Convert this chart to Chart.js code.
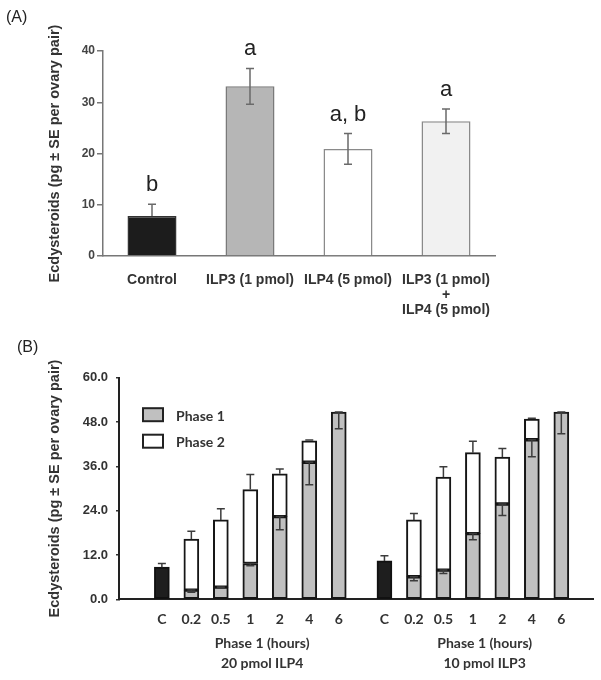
<!DOCTYPE html>
<html><head><meta charset="utf-8">
<script src="https://cdn.jsdelivr.net/npm/chart.js@4.4.0/dist/chart.umd.min.js"></script>
<style>
html,body{margin:0;padding:0;background:#fff;}
#wrap{position:relative;width:601px;height:680px;overflow:hidden;background:#fff;}
canvas{position:absolute;left:0;}
#ca{top:0;}
#cb{top:330px;}
.pl{position:absolute;font-family:'Liberation Sans',Arial,sans-serif;font-size:16px;color:#222;line-height:16px;}
</style></head>
<body><div id="wrap">
<canvas id="ca" width="601" height="325"></canvas>
<canvas id="cb" width="601" height="350"></canvas>
<div class="pl" style="left:6px;top:9px">(A)</div>
<div class="pl" style="left:17px;top:339px">(B)</div>
</div>
<script>
// ---------- Panel A data ----------
const catsA = ['Control', 'ILP3 (1 pmol)', 'ILP4 (5 pmol)', ['ILP3 (1 pmol)', '+', 'ILP4 (5 pmol)']];
const valuesA = [7.8, 33.1, 20.9, 26.3];
const errUpA = [2.3, 3.5, 3.0, 2.4];
const errDownA = [0, 3.5, 3.0, 2.4];
const lettersA = ['b', 'a', 'a, b', 'a'];
const yTitle = 'Ecdysteroids (pg \u00b1 SE per ovary pair)';

// ---------- Panel B data ----------
const timesB = ['C', '0.2', '0.5', '1', '2', '4', '6'];
const groupTitlesB = [['Phase 1 (hours)', '20 pmol ILP4'], ['Phase 1 (hours)', '10 pmol ILP3']];
const controlB = [8.7, 10.4];
const controlErrB = [1.0, 1.4];
const phase1ILP4 = [2.5, 3.3, 9.7, 22.4, 37.1, 50.7];
const phase1ErrILP4 = [0.6, 0.3, 0.6, 3.6, 6.1, 4.5];
const phase2ILP4 = [13.8, 18.2, 20.0, 11.6, 5.8, 0];
const totalErrILP4 = [2.1, 3.0, 4.1, 1.3, 0.2, 0];
const phase1ILP3 = [6.1, 7.9, 17.8, 25.8, 43.2, 50.7];
const phase1ErrILP3 = [1.1, 0.9, 1.7, 3.1, 4.6, 5.9];
const phase2ILP3 = [15.4, 25.2, 21.9, 12.7, 5.6, 0];
const totalErrILP3 = [1.7, 2.8, 3.1, 2.3, 0.2, 0];

const arial = '"Liberation Sans", Arial, sans-serif';

// ---------- Panel A chart ----------
const colorsA = ['#1c1c1c', '#b6b6b6', '#ffffff', '#f1f1f1'];
const bordersA = ['#333333', '#7a7a7a', '#8a8a8a', '#8a8a8a'];

const errPluginA = {
  id: 'errA',
  afterDatasetsDraw(chart) {
    const ctx = chart.ctx, ys = chart.scales.y;
    const meta = chart.getDatasetMeta(0);
    ctx.save();
    ctx.strokeStyle = '#6a6a6a';
    ctx.lineWidth = 1.5;
    meta.data.forEach((el, i) => {
      const v = valuesA[i];
      const yt = ys.getPixelForValue(v + errUpA[i]);
      const yb = ys.getPixelForValue(v - errDownA[i]);
      ctx.beginPath();
      ctx.moveTo(el.x, yt); ctx.lineTo(el.x, yb);
      ctx.moveTo(el.x - 4, yt); ctx.lineTo(el.x + 4, yt);
      if (errDownA[i] > 0) { ctx.moveTo(el.x - 4, yb); ctx.lineTo(el.x + 4, yb); }
      ctx.stroke();
      ctx.fillStyle = '#222';
      ctx.font = '22px ' + arial;
      ctx.textAlign = 'center';
      ctx.textBaseline = 'alphabetic';
      ctx.fillText(lettersA[i], el.x, yt - 13);
    });
    ctx.restore();
  }
};

new Chart(document.getElementById('ca'), {
  type: 'bar',
  data: {
    labels: catsA,
    datasets: [{
      data: valuesA,
      backgroundColor: colorsA,
      borderColor: bordersA,
      borderWidth: 1.5,
      borderSkipped: 'start',
      categoryPercentage: 1,
      barPercentage: 0.5
    }]
  },
  options: {
    responsive: false,
    animation: false,
    devicePixelRatio: 1,
    layout: { padding: { top: 51, right: 106, left: 0, bottom: 0 } },
    plugins: { legend: { display: false }, tooltip: { enabled: false } },
    scales: {
      x: {
        grid: { display: false, drawTicks: false },
        border: { display: true, color: '#777', width: 1.5 },
        ticks: {
          color: '#333',
          font: { family: arial, size: 14, weight: 'bold', lineHeight: 1.1 },
          padding: 16, maxRotation: 0, autoSkip: false
        },
        afterFit(s) { s.height = 69; }
      },
      y: {
        min: 0, max: 40,
        ticks: {
          stepSize: 10, color: '#444', padding: 2,
          font: { family: arial, size: 12, weight: 'bold' }
        },
        grid: { display: true, drawOnChartArea: false, drawTicks: true, tickLength: 6, color: '#777', lineWidth: 1.5 },
        border: { display: true, color: '#777', width: 1.5 },
        title: {
          display: true, text: yTitle, color: '#333',
          font: { family: arial, size: 14.5, weight: 'bold' },
          padding: { top: 46, bottom: 0 }
        },
        afterFit(s) { s.width = 103; }
      }
    }
  },
  plugins: [errPluginA]
});

// ---------- Panel B chart ----------
const groupStride = 7.55; // layout spacing between the two groups (in slot units)
const phase1Groups = [phase1ILP4, phase1ILP3];
const phase1ErrGroups = [phase1ErrILP4, phase1ErrILP3];
const phase2Groups = [phase2ILP4, phase2ILP3];
const totalErrGroups = [totalErrILP4, totalErrILP3];

const posB = [], labB = [];
for (let g = 0; g < 2; g++) for (let i = 0; i < timesB.length; i++) { posB.push(g * groupStride + i); labB.push(timesB[i]); }

const controlData = controlB.map((v, g) => ({ x: g * groupStride, y: v }));
const p1Data = [], p2Data = [];
for (let g = 0; g < 2; g++) for (let i = 1; i < timesB.length; i++) {
  p1Data.push({ x: g * groupStride + i, y: phase1Groups[g][i - 1] });
  p2Data.push({ x: g * groupStride + i, y: phase2Groups[g][i - 1] });
}

const fontB = 'Lato, "Open Sans", sans-serif';

const errPluginB = {
  id: 'errB',
  afterDatasetsDraw(chart) {
    const ctx = chart.ctx, ys = chart.scales.y;
    ctx.save();
    ctx.strokeStyle = '#3c3c3c';
    ctx.lineWidth = 1.5;
    const seg = (x, y1, y2, capBoth) => {
      ctx.beginPath();
      ctx.moveTo(x, y1); ctx.lineTo(x, y2);
      ctx.moveTo(x - 4, y2); ctx.lineTo(x + 4, y2);
      if (capBoth) { ctx.moveTo(x - 4, y1); ctx.lineTo(x + 4, y1); }
      ctx.stroke();
    };
    chart.getDatasetMeta(0).data.forEach((el, g) => {
      const v = controlB[g];
      seg(el.x, ys.getPixelForValue(v), ys.getPixelForValue(v + controlErrB[g]), false);
    });
    chart.getDatasetMeta(1).data.forEach((el, k) => {
      const g = Math.floor(k / 6), i = k % 6;
      const v = phase1Groups[g][i], e = phase1ErrGroups[g][i];
      if (e > 0) seg(el.x, ys.getPixelForValue(v), ys.getPixelForValue(v - e), true);
    });
    chart.getDatasetMeta(2).data.forEach((el, k) => {
      const g = Math.floor(k / 6), i = k % 6;
      const t = phase1Groups[g][i] + phase2Groups[g][i], e = totalErrGroups[g][i];
      if (e > 0) seg(el.x, ys.getPixelForValue(t), ys.getPixelForValue(t + e), false);
    });
    ctx.restore();
  },
  afterDraw(chart) {
    const ctx = chart.ctx, xs = chart.scales.x, ca = chart.chartArea;
    ctx.save();
    const ds = chart.data.datasets;
    [1, 2].forEach((d, r) => {
      const bx = ca.left + 24, by = ca.top + 30.5 + r * 26.5;
      ctx.fillStyle = ds[d].backgroundColor;
      ctx.fillRect(bx, by, 20, 13);
      ctx.strokeStyle = '#222'; ctx.lineWidth = 2;
      ctx.strokeRect(bx, by, 20, 13);
      ctx.fillStyle = '#333';
      ctx.font = 'bold 14px ' + fontB;
      ctx.textAlign = 'left'; ctx.textBaseline = 'middle';
      ctx.fillText(ds[d].label, bx + 33, by + 8);
    });
    ctx.font = 'bold 14px ' + fontB;
    ctx.fillStyle = '#333';
    ctx.textAlign = 'center'; ctx.textBaseline = 'middle';
    groupTitlesB.forEach((lines, g) => {
      const cx = xs.getPixelForValue(g * groupStride + 3.4);
      lines.forEach((t, j) => ctx.fillText(t, cx, ca.bottom + 44 + j * 20));
    });
    ctx.restore();
  }
};

new Chart(document.getElementById('cb'), {
  type: 'bar',
  data: {
    datasets: [
      { label: 'Control', data: controlData, backgroundColor: '#1e1e1e', borderColor: '#111', borderWidth: 2, borderSkipped: false, barThickness: 15 },
      { label: 'Phase 1', data: p1Data, backgroundColor: '#c0c0c0', borderColor: '#161616', borderWidth: 2, borderSkipped: false, barThickness: 15 },
      { label: 'Phase 2', data: p2Data, backgroundColor: '#ffffff', borderColor: '#161616', borderWidth: 2, borderSkipped: false, barThickness: 15 }
    ]
  },
  options: {
    responsive: false,
    animation: false,
    devicePixelRatio: 1,
    layout: { padding: { top: 47.7, right: 8, left: 0, bottom: 0 } },
    plugins: { legend: { display: false }, tooltip: { enabled: false } },
    scales: {
      x: {
        type: 'linear', stacked: true,
        min: -0.88, max: 14.05,
        grid: { display: false, drawTicks: false },
        border: { display: true, color: '#222', width: 2 },
        afterBuildTicks(s) { s.ticks = posB.map(v => ({ value: v })); },
        ticks: {
          autoSkip: false, maxRotation: 0, padding: 12,
          color: '#333',
          font: { family: fontB, size: 14, weight: 'bold', lineHeight: 1.2 },
          callback: (v, i) => labB[i]
        },
        afterFit(s) { s.height = 80.7; }
      },
      y: {
        stacked: true, min: 0, max: 60,
        grid: { display: true, drawOnChartArea: false, drawTicks: true, tickLength: 3, color: '#333', lineWidth: 1.5 },
        border: { display: true, color: '#222', width: 2 },
        ticks: {
          stepSize: 12, padding: 8, color: '#333',
          font: { family: arial, size: 13, weight: 'bold' },
          callback: v => v.toFixed(1)
        },
        title: {
          display: true, text: yTitle, color: '#333',
          font: { family: arial, size: 14.5, weight: 'bold' },
          padding: { top: 46, bottom: 0 }
        },
        afterFit(s) { s.width = 119; }
      }
    }
  },
  plugins: [errPluginB]
});
</script>
</body></html>
